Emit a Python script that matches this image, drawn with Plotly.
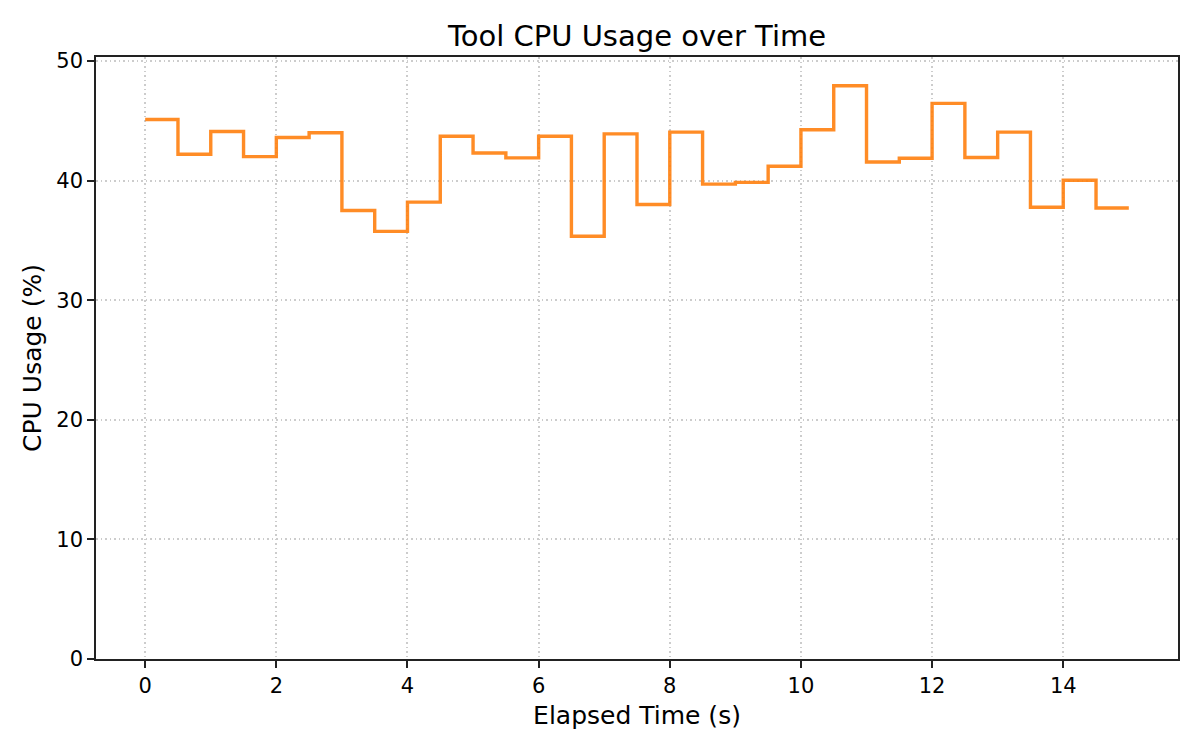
import plotly.graph_objects as go

elapsed_s = [0.0, 0.5, 1.0, 1.5, 2.0, 2.5, 3.0, 3.5, 4.0, 4.5, 5.0, 5.5, 6.0, 6.5, 7.0, 7.5,
             8.0, 8.5, 9.0, 9.5, 10.0, 10.5, 11.0, 11.5, 12.0, 12.5, 13.0, 13.5, 14.0, 14.5, 15.0]
cpu_pct = [45.1, 42.2, 44.1, 42.0, 43.6, 44.0, 37.5, 35.75, 38.2, 43.7, 42.3, 41.9, 43.7, 35.35,
           43.9, 38.0, 44.05, 39.7, 39.85, 41.2, 44.25, 47.93, 41.55, 41.87, 46.45, 41.93,
           44.05, 37.77, 40.03, 37.7, 37.7]
x_ticks = [0, 2, 4, 6, 8, 10, 12, 14]
y_ticks = [0, 10, 20, 30, 40, 50]

FONT = "DejaVu Sans"
fig = go.Figure()
fig.add_trace(go.Scatter(
    x=elapsed_s, y=cpu_pct, mode="lines",
    line=dict(shape="hv", color="rgba(255,127,14,0.9)", width=3.4),
    showlegend=False,
))

axis_common = dict(
    showline=True, linecolor="#222222", linewidth=1.6, mirror=True,
    ticks="outside", ticklen=7, tickwidth=1.6, tickcolor="#222222",
    showgrid=True, gridcolor="#cccccc", griddash="1.7px,2.8px", gridwidth=1.5,
    zeroline=False, tickfont=dict(family=FONT, size=21, color="black"),
)

# page body has an 8px default margin, so the figure is shrunk by 8px
fig.update_layout(
    width=1192, height=742,
    paper_bgcolor="white", plot_bgcolor="white",
    margin=dict(l=88, r=22, t=49, b=91),
    title=dict(text="Tool CPU Usage over Time", x=0.5, xanchor="center", xref="paper",
               y=1, yref="paper", yanchor="bottom", pad=dict(b=11),
               font=dict(family=FONT, size=29, color="black")),
    xaxis=dict(range=[-0.75, 15.75], tickvals=x_ticks,
               title=dict(text="Elapsed Time (s)", standoff=9,
                          font=dict(family=FONT, size=25, color="black")),
               **axis_common),
    yaxis=dict(range=[0, 50.33], tickvals=y_ticks,
               title=dict(text="CPU Usage (%)", standoff=8,
                          font=dict(family=FONT, size=25, color="black")),
               **axis_common),
)

fig.write_html("out.html")
